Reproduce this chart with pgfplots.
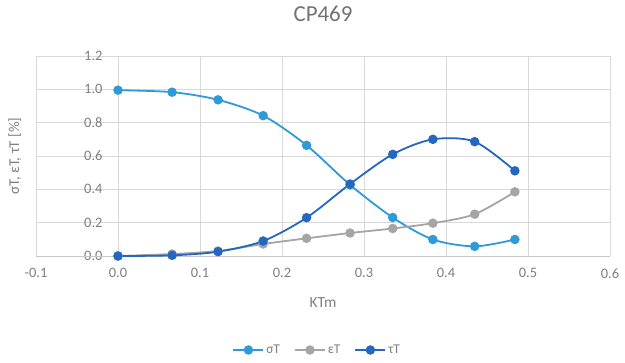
\documentclass[border=0pt]{standalone}
\usepackage{fontspec}
\setmainfont{Carlito}
\usepackage{pgfplots}
\pgfplotsset{compat=1.18}
\definecolor{sigc}{HTML}{2E9BD8}
\definecolor{epsc}{HTML}{A5A5A5}
\definecolor{tauc}{HTML}{2566C0}
\definecolor{gridc}{HTML}{D9D9D9}
\definecolor{txtc}{HTML}{7F7F7F}
\begin{document}
\begin{tikzpicture}[x=1bp,y=1bp]
\useasboundingbox (0,0) rectangle (625,362);
\begin{axis}[
  at={(36bp,106bp)}, anchor=south west,
  scale only axis, width=574bp, height=200bp,
  xmin=-0.1, xmax=0.6, ymin=0, ymax=1.2,
  xtick={-0.1,0,0.1,0.2,0.3,0.4,0.5,0.6},
  ytick={0,0.2,0.4,0.6,0.8,1.0,1.2},
  xticklabels={-0.1,0.0,0.1,0.2,0.3,0.4,0.5,0.6},
  yticklabels={0.0,0.2,0.4,0.6,0.8,1.0,1.2},
  grid=major, major grid style={gridc, line width=0.8bp},
  axis line style={draw=none},
  tick style={draw=none},
  ticklabel style={font=\fontsize{14.5}{15}\selectfont, text=txtc},
  yticklabel style={xshift=70bp},
  xticklabel style={yshift=-9bp},
  title={CP469},
  title style={font=\fontsize{23}{25}\selectfont, text=txtc!90!black, at={(axis description cs:0.5,1.18)}, anchor=center},
  xlabel={KTm},
  xlabel style={font=\fontsize{15.5}{16}\selectfont, text=txtc, at={(axis description cs:0.5,-0.235)}, anchor=center},
  ylabel={σT, εT, τT [\%]},
  ylabel style={font=\fontsize{15}{16}\selectfont, text=txtc, at={(axis description cs:-0.037,0.5)}, anchor=center},
  legend columns=3,
  legend style={draw=none, fill=none, at={(axis description cs:0.49,-0.47)}, anchor=center,
    font=\fontsize{13.5}{14}\selectfont, text=txtc, /tikz/every even column/.append style={column sep=12bp}},
  legend cell align=left,
  legend image code/.code={
    \draw[#1, mark repeat=2, mark phase=2] plot coordinates {(0bp,0bp) (15bp,0bp) (30bp,0bp)};
  },
  clip=false,
]
\draw[color=gridc!80!gray, line width=0.8bp] (axis cs:-0.1,0) -- (axis cs:0.6,0);
\addplot[sigc, line width=1.8bp, smooth, mark=*, mark size=3.8bp, mark options={fill=sigc, draw=sigc}] coordinates {
(0,0.995) (0.066,0.983) (0.122,0.937) (0.177,0.842) (0.23,0.664) (0.283,0.427) (0.335,0.231) (0.384,0.099) (0.435,0.058) (0.484,0.099)};
\addlegendentry{σT}
\addplot[epsc, line width=1.8bp, smooth, mark=*, mark size=3.8bp, mark options={fill=epsc, draw=epsc}] coordinates {
(0,0.0) (0.066,0.012) (0.122,0.03) (0.177,0.072) (0.23,0.106) (0.283,0.138) (0.335,0.165) (0.384,0.197) (0.435,0.251) (0.484,0.385)};
\addlegendentry{εT}
\addplot[tauc, line width=1.8bp, smooth, mark=*, mark size=3.8bp, mark options={fill=tauc, draw=tauc}] coordinates {
(0,0.0) (0.066,0.004) (0.122,0.026) (0.177,0.09) (0.23,0.23) (0.283,0.432) (0.335,0.61) (0.384,0.70) (0.435,0.686) (0.484,0.511)};
\addlegendentry{τT}
\end{axis}
\end{tikzpicture}
\end{document}
